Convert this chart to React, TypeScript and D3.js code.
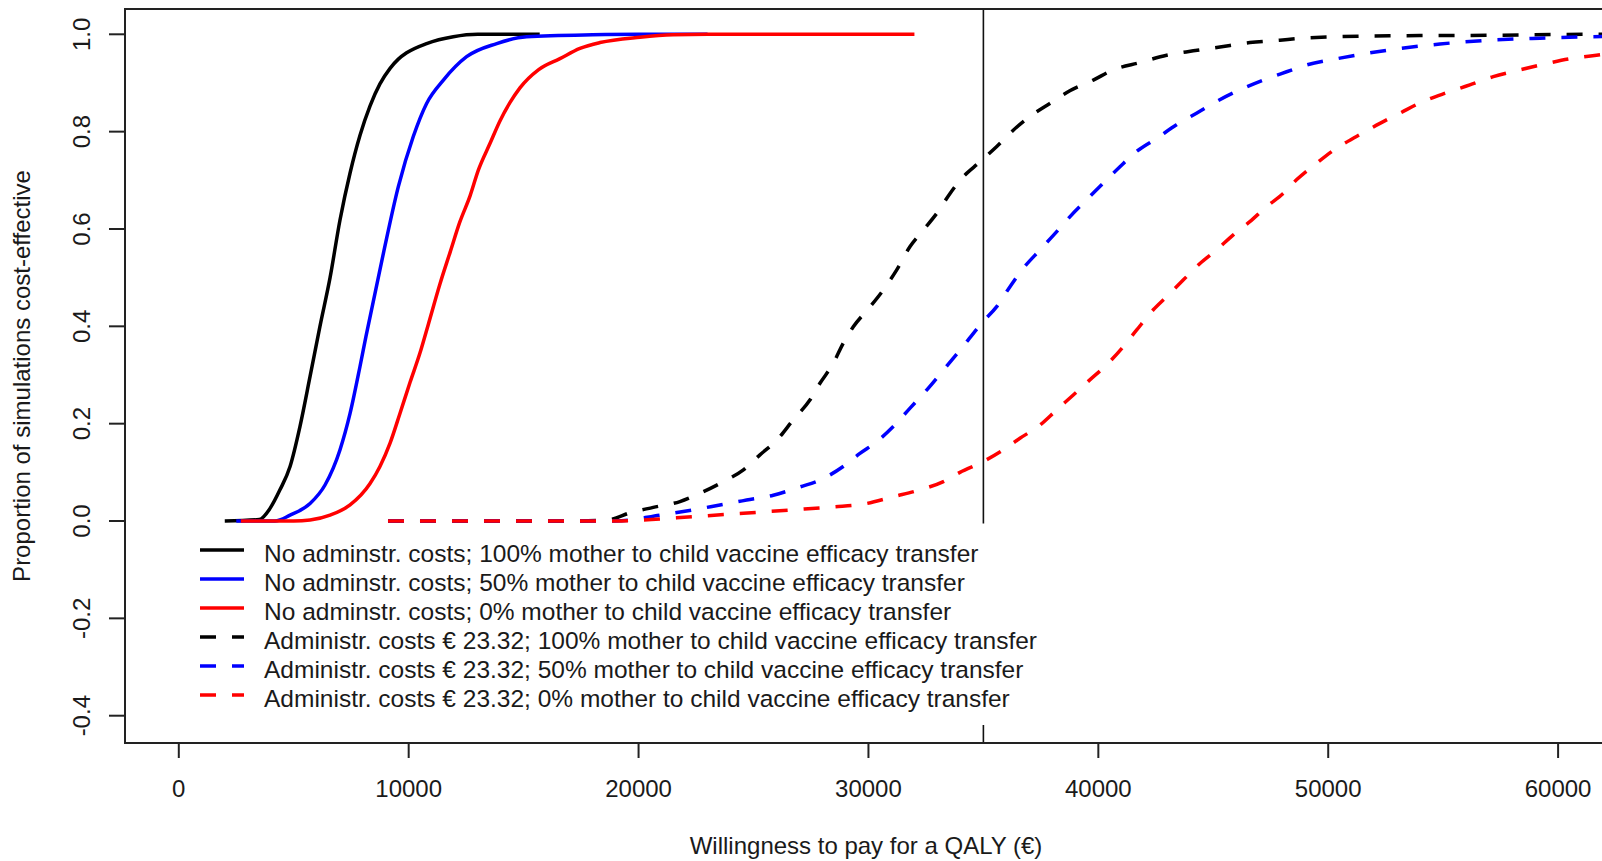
import React from "react";
import * as d3 from "d3";

// ---- data (WTP in €, proportion cost-effective) ----
const noAdmin100: [number, number][] = [
  [2000, 0], [3500, 0.003], [3970, 0.026], [4400, 0.064], [4840, 0.112], [5270, 0.194],
  [5710, 0.297], [6140, 0.4], [6580, 0.5], [7010, 0.618], [7450, 0.715], [7880, 0.792],
  [8320, 0.853], [8750, 0.898], [9190, 0.93], [9550, 0.949], [9910, 0.962], [10780, 0.981],
  [11940, 0.995], [13000, 1.0], [15700, 1.0],
];
const noAdmin50: [number, number][] = [
  [2500, 0], [4180, 0], [4840, 0.012], [5710, 0.036], [6360, 0.074], [7010, 0.146],
  [7450, 0.221], [7880, 0.317], [8140, 0.379], [8900, 0.55], [9550, 0.687], [10200, 0.79],
  [10780, 0.858], [11510, 0.906], [12520, 0.954], [13830, 0.981], [15130, 0.995],
  [18000, 0.999], [20000, 1.0], [23000, 1.0],
];
const noAdmin0: [number, number][] = [
  [2700, 0], [5000, 0], [5710, 0.002], [6580, 0.012], [7450, 0.033], [8320, 0.077],
  [8750, 0.112], [9190, 0.16], [9620, 0.221], [10060, 0.285], [10490, 0.345], [10860, 0.405],
  [11360, 0.487], [11800, 0.552], [12230, 0.615], [12670, 0.668], [13030, 0.721], [13540, 0.776],
  [13970, 0.822], [14410, 0.86], [14840, 0.89], [15640, 0.927], [16580, 0.95], [17450, 0.971],
  [18320, 0.983], [20060, 0.994], [21500, 0.999], [23000, 1.0], [32000, 1.0],
];
const admin100: [number, number][] = [
  [9100, 0], [17000, 0], [18750, 0.003], [19630, 0.017], [20640, 0.028], [21800, 0.04],
  [22670, 0.057], [23690, 0.081], [24560, 0.105], [25280, 0.136], [26010, 0.166], [26730, 0.208],
  [27460, 0.249], [27890, 0.283], [28470, 0.324], [28900, 0.365], [29340, 0.399], [30070, 0.44],
  [30650, 0.475], [31230, 0.516], [31810, 0.564], [32390, 0.598], [32970, 0.632], [33550, 0.673],
  [34000, 0.701], [34850, 0.738], [35570, 0.769], [36300, 0.803], [37020, 0.831], [37890, 0.858],
  [38760, 0.884], [39780, 0.906], [40650, 0.927], [41810, 0.942], [42970, 0.957], [44130, 0.966],
  [45290, 0.974], [46590, 0.983], [47900, 0.988], [48910, 0.992], [52680, 0.997], [57030, 0.998],
  [61380, 1.0], [63000, 1.0],
];
const admin50: [number, number][] = [
  [9100, 0], [19000, 0], [20930, 0.012], [22380, 0.023], [23540, 0.033], [24700, 0.043],
  [25860, 0.053], [27020, 0.07], [27890, 0.084], [28900, 0.112], [29630, 0.139], [30360, 0.163],
  [31080, 0.194], [31810, 0.232], [32530, 0.269], [33260, 0.31], [33980, 0.351], [34990, 0.41],
  [35570, 0.44], [36150, 0.481], [36730, 0.519], [37460, 0.557], [38180, 0.594], [38760, 0.625],
  [39490, 0.66], [40210, 0.694], [40940, 0.728], [41660, 0.759], [42530, 0.786], [43400, 0.814],
  [44270, 0.838], [45140, 0.862], [46160, 0.886], [47170, 0.906], [48190, 0.923], [49060, 0.937],
  [50510, 0.951], [52680, 0.968], [54860, 0.98], [57030, 0.988], [59210, 0.992], [61380, 0.995],
  [63000, 0.996],
];
const admin0: [number, number][] = [
  [9100, 0], [19000, 0], [20210, 0.002], [22380, 0.009], [24560, 0.016], [26730, 0.023],
  [28470, 0.029], [29920, 0.036], [31080, 0.05], [32240, 0.064], [33260, 0.081], [33980, 0.1],
  [34990, 0.122], [35860, 0.146], [36590, 0.17], [37460, 0.197], [38180, 0.228], [38910, 0.259],
  [39630, 0.29], [40360, 0.321], [41080, 0.358], [41660, 0.392], [42390, 0.434], [42970, 0.461],
  [43690, 0.495], [44420, 0.529], [45140, 0.557], [45870, 0.588], [46590, 0.615], [47320, 0.646],
  [48040, 0.673], [48620, 0.701], [49490, 0.735], [50360, 0.766], [51230, 0.79], [52250, 0.817],
  [53120, 0.838], [54130, 0.862], [55150, 0.88], [56160, 0.896], [57180, 0.913], [58340, 0.927],
  [59500, 0.94], [60660, 0.951], [61670, 0.957], [63000, 0.965],
];

const xTicks = [0, 10000, 20000, 30000, 40000, 50000, 60000];
const yTicks = [-0.4, -0.2, 0.0, 0.2, 0.4, 0.6, 0.8, 1.0];
const thresholdWTP = 35000;

const seriesNames = [
  "No adminstr. costs; 100% mother to child vaccine efficacy transfer",
  "No adminstr. costs; 50% mother to child vaccine efficacy transfer",
  "No adminstr. costs; 0% mother to child vaccine efficacy transfer",
  "Administr. costs € 23.32; 100% mother to child vaccine efficacy transfer",
  "Administr. costs € 23.32; 50% mother to child vaccine efficacy transfer",
  "Administr. costs € 23.32; 0% mother to child vaccine efficacy transfer",
];
const seriesData = [noAdmin100, noAdmin50, noAdmin0, admin100, admin50, admin0];
const seriesColors = ["#000000", "#0000ff", "#ff0000", "#000000", "#0000ff", "#ff0000"];
const seriesDashed = [false, false, false, true, true, true];

const xLabel = "Willingness to pay for a QALY (€)";
const yLabel = "Proportion of simulations cost-effective";

export default function App() {
  const W = 1602;
  const H = 861;
  const box = { left: 125, top: 9, right: 1607, bottom: 743 };
  const x = d3.scaleLinear().domain([0, 60000]).range([178.8, 1558.1]);
  const y = d3.scaleLinear().domain([-0.4, 1.0]).range([715.7, 34.3]);
  const line = d3
    .line<[number, number]>()
    .x((d) => x(d[0]))
    .y((d) => y(d[1]))
    .curve(d3.curveMonotoneX);

  const font = "'Liberation Sans', Arial, Helvetica, sans-serif";
  const fs = 24;
  const legendFs = 24.5;
  const textColor = "#1a1a1a";
  const axisColor = "#222";
  const sw = 3.5;
  const dash = "16 16";

  const legendX1 = 200;
  const legendX2 = 244;
  const legendTextX = 264;
  const legendY0 = 550;
  const legendStep = 29;

  return (
    <svg
      width={W}
      height={H}
      style={{ position: "absolute", left: 0, top: 0, background: "#fff" }}
      fontFamily={font}
    >
      <defs>
        <clipPath id="plotClip">
          <rect x={box.left} y={box.top} width={box.right - box.left} height={box.bottom - box.top} />
        </clipPath>
      </defs>
      <rect x={0} y={0} width={W} height={H} fill="#fff" />

      <g clipPath="url(#plotClip)">
        {seriesData.map((d, i) => (
          <path
            key={i}
            d={line(d) || ""}
            fill="none"
            stroke={seriesColors[i]}
            strokeWidth={sw}
            strokeDasharray={seriesDashed[i] ? dash : undefined}
            strokeLinejoin="round"
          />
        ))}
        <line
          x1={x(thresholdWTP)}
          x2={x(thresholdWTP)}
          y1={box.top}
          y2={box.bottom}
          stroke="#111"
          strokeWidth={1.6}
        />
        {/* legend background (white, no border) */}
        <rect
          x={legendX1 - 15}
          y={legendY0 - legendStep + 2.5}
          width={870}
          height={legendStep * 7 - 1.5}
          fill="#fff"
        />
      </g>

      {/* box */}
      <rect
        x={box.left}
        y={box.top}
        width={box.right - box.left}
        height={box.bottom - box.top}
        fill="none"
        stroke={axisColor}
        strokeWidth={2}
      />

      {/* x axis ticks */}
      {xTicks.map((t) => (
        <g key={t}>
          <line x1={x(t)} x2={x(t)} y1={box.bottom} y2={box.bottom + 15} stroke={axisColor} strokeWidth={2} />
          <text x={x(t)} y={797} textAnchor="middle" fontSize={fs} fill={textColor}>
            {t}
          </text>
        </g>
      ))}

      {/* y axis ticks */}
      {yTicks.map((t) => (
        <g key={t}>
          <line x1={box.left - 16} x2={box.left} y1={y(t)} y2={y(t)} stroke={axisColor} strokeWidth={2} />
          <text
            transform={`translate(90,${y(t)}) rotate(-90)`}
            textAnchor="middle"
            fontSize={fs}
            fill={textColor}
          >
            {t.toFixed(1)}
          </text>
        </g>
      ))}

      {/* axis titles */}
      <text x={(box.left + box.right) / 2} y={854} textAnchor="middle" fontSize={fs} fill={textColor}>
        {xLabel}
      </text>
      <text
        transform={`translate(30,${(box.top + box.bottom) / 2}) rotate(-90)`}
        textAnchor="middle"
        fontSize={fs}
        fill={textColor}
      >
        {yLabel}
      </text>

      {/* legend */}
      {seriesNames.map((name, i) => {
        const ly = legendY0 + legendStep * i;
        return (
          <g key={name}>
            <line
              x1={legendX1}
              x2={legendX2}
              y1={ly}
              y2={ly}
              stroke={seriesColors[i]}
              strokeWidth={sw}
              strokeDasharray={seriesDashed[i] ? dash : undefined}
            />
            <text x={legendTextX} y={ly + 12} fontSize={legendFs} fill={textColor}>
              {name}
            </text>
          </g>
        );
      })}
    </svg>
  );
}
